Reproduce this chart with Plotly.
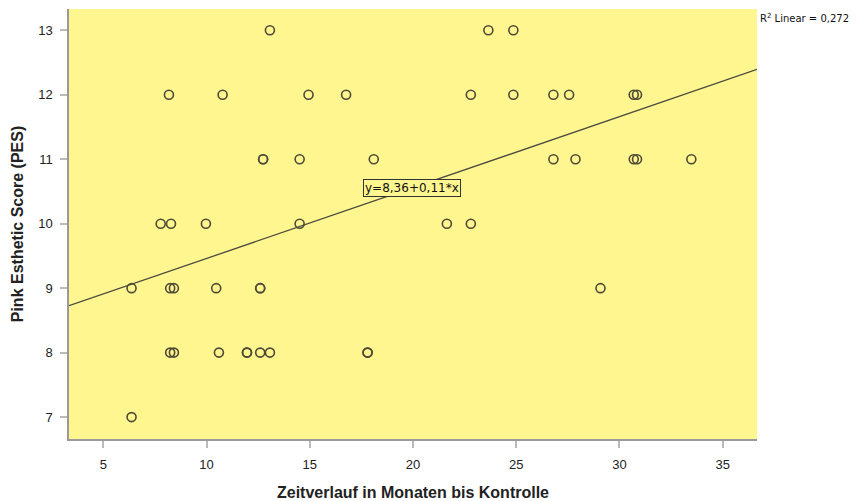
import numpy as np
import plotly.graph_objects as go

# Data
months = [13.07, 23.65, 24.86,
          8.18, 10.78, 14.94, 16.76, 22.80, 24.86, 26.80, 27.56, 30.69, 30.85,
          12.74, 12.74, 14.51, 18.10, 26.80, 27.87, 30.69, 30.85, 33.48,
          7.78, 8.28, 9.97, 14.51, 21.64, 22.80,
          6.37, 8.24, 8.42, 10.47, 12.60, 12.60, 29.08,
          8.24, 8.42, 10.60, 11.96, 11.96, 12.60, 13.07, 17.80, 17.80,
          6.37]
pes = [13, 13, 13,
       12, 12, 12, 12, 12, 12, 12, 12, 12, 12,
       11, 11, 11, 11, 11, 11, 11, 11, 11,
       10, 10, 10, 10, 10, 10,
       9, 9, 9, 9, 9, 9, 9,
       8, 8, 8, 8, 8, 8, 8, 8, 8,
       7]
intercept = 8.36
slope = 0.11
r2_label = "R<sup>2</sup> Linear = 0,272"
eq_label = "y=8,36+0,11*x"
x_range = [3.34, 36.66]
y_range = [6.66, 13.33]
x_ticks = [5, 10, 15, 20, 25, 30, 35]
y_ticks = [7, 8, 9, 10, 11, 12, 13]

fig = go.Figure()

line_x = np.array(x_range)
line_y = intercept + slope * line_x
fig.add_trace(go.Scatter(x=line_x, y=line_y, mode="lines",
                         line=dict(color="#4a4a40", width=1.3),
                         hoverinfo="skip", showlegend=False))

fig.add_trace(go.Scatter(x=months, y=pes, mode="markers",
                         marker=dict(symbol="circle-open", size=9,
                                     color="#4d4a35", line=dict(width=1.6)),
                         showlegend=False))

eq_x = 19.94
fig.add_annotation(x=eq_x, y=intercept + slope * eq_x, xref="x", yref="y",
                   text=eq_label, showarrow=False,
                   font=dict(family="DejaVu Sans, sans-serif", size=12, color="#111"),
                   bgcolor="#FFF68F", bordercolor="#333", borderwidth=1, borderpad=1)

fig.add_annotation(x=1.0, y=1.0, xref="paper", yref="paper",
                   xanchor="left", yanchor="top", xshift=1, yshift=-1,
                   text=r2_label, showarrow=False,
                   font=dict(family="DejaVu Sans, sans-serif", size=10, color="#111"))

axis_font = dict(family="Liberation Sans, Arial, sans-serif", size=13, color="#222")
title_font = dict(family="Liberation Sans, Arial, sans-serif", size=16, color="#222")
fig.update_xaxes(range=x_range, tickvals=x_ticks, ticks="outside", ticklen=7,
                 tickcolor="#bbb", tickwidth=1.5, showgrid=False, zeroline=False,
                 showline=True, linecolor="#999", linewidth=1.5,
                 tickfont=axis_font, ticklabelstandoff=6, automargin=False,
                 title=dict(text="<b>Zeitverlauf in Monaten bis Kontrolle</b>",
                            font=title_font, standoff=15))
fig.update_yaxes(range=y_range, tickvals=y_ticks, ticks="outside", ticklen=7,
                 tickcolor="#bbb", tickwidth=1.5, showgrid=False, zeroline=False,
                 showline=True, linecolor="#999", linewidth=1.5,
                 tickfont=axis_font, ticklabelstandoff=5, automargin=False,
                 title=dict(text="<b>Pink Esthetic Score (PES)</b>",
                            font=title_font, standoff=11))

fig.update_layout(width=857, height=501,
                  margin=dict(l=69, r=100, t=9, b=62, autoexpand=False),
                  paper_bgcolor="white", plot_bgcolor="#FFF68F")

fig.write_html("out.html")
